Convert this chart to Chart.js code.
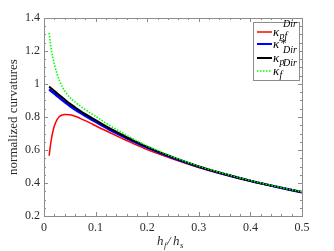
<!DOCTYPE html>
<html>
<head>
<meta charset="utf-8">
<script src="https://cdn.jsdelivr.net/npm/chart.js@4/dist/chart.umd.min.js"></script>
<style>
html,body{margin:0;padding:0;background:#fff;}
canvas{display:block;}
</style>
</head>
<body>
<canvas id="c" width="334" height="251"></canvas>
<script>
// ---- data ----
const hRatio = [0.01, 0.0125, 0.015, 0.0175, 0.02, 0.025, 0.03, 0.035, 0.04, 0.05, 0.06, 0.07, 0.08, 0.09, 0.1, 0.125, 0.15, 0.175, 0.2, 0.25, 0.3, 0.35, 0.4, 0.45, 0.5];
const kappaPF = [0.565, 0.63, 0.678, 0.715, 0.745, 0.783, 0.803, 0.812, 0.815, 0.813, 0.805, 0.792, 0.778, 0.763, 0.747, 0.709, 0.672, 0.636, 0.602, 0.545, 0.494, 0.45, 0.41, 0.375, 0.343];
const kappaStar = [0.968, 0.961, 0.955, 0.948, 0.942, 0.929, 0.916, 0.903, 0.891, 0.867, 0.846, 0.826, 0.807, 0.789, 0.771, 0.727, 0.687, 0.649, 0.614, 0.552, 0.498, 0.453, 0.413, 0.377, 0.344];
const kappaP = [0.985, 0.978, 0.971, 0.965, 0.958, 0.945, 0.932, 0.919, 0.906, 0.881, 0.859, 0.838, 0.818, 0.799, 0.781, 0.735, 0.694, 0.655, 0.619, 0.555, 0.50, 0.455, 0.414, 0.378, 0.345];
const kappaF = [1.31, 1.245, 1.195, 1.156, 1.121, 1.064, 1.02, 0.985, 0.958, 0.919, 0.891, 0.867, 0.845, 0.824, 0.804, 0.753, 0.707, 0.664, 0.625, 0.558, 0.502, 0.456, 0.415, 0.379, 0.346];
const xTicks = [0, 0.1, 0.2, 0.3, 0.4, 0.5];
const xTickLabels = ['0', '0.1', '0.2', '0.3', '0.4', '0.5'];
const yTicks = [0.2, 0.4, 0.6, 0.8, 1.0, 1.2, 1.4];
const yTickLabels = ['0.2', '0.4', '0.6', '0.8', '1', '1.2', '1.4'];
const yTitle = 'normalized curvatures';
const legendItems = [
  {sup: 'Dir', sub: 'pf'},
  {sup: '*', sub: ''},
  {sup: 'Dir', sub: 'p'},
  {sup: 'Dir', sub: 'f'}
];

const pts = arr => hRatio.map((x, i) => ({x: x, y: arr[i]}));
const SERIF = '"Liberation Serif", "DejaVu Serif", serif';
const TXT = '#2a2a2a';
const AX = '#8c8c8c';

const frame = {
  id: 'frame',
  afterDatasetsDraw(chart) {
    const {ctx, chartArea: a, scales: {x, y}} = chart;
    ctx.save();
    ctx.strokeStyle = AX;
    ctx.lineWidth = 1;
    ctx.strokeRect(Math.round(a.left) + 0.5, Math.round(a.top) + 0.5, Math.round(a.right - a.left), Math.round(a.bottom - a.top));
    ctx.beginPath();
    for (let i = 0; i <= 25; i++) {
      const v = i * 0.02;
      const px = Math.round(x.getPixelForValue(v)) + 0.5;
      const L = (i % 5 === 0) ? 4 : 2;
      ctx.moveTo(px, a.bottom); ctx.lineTo(px, a.bottom - L);
      ctx.moveTo(px, a.top); ctx.lineTo(px, a.top + L);
    }
    for (let i = 4; i <= 28; i++) {
      const v = i * 0.05;
      const py = Math.round(y.getPixelForValue(v)) + 0.5;
      const L = (i % 4 === 0) ? 4 : 2;
      ctx.moveTo(a.left, py); ctx.lineTo(a.left + L, py);
      ctx.moveTo(a.right, py); ctx.lineTo(a.right - L, py);
    }
    ctx.stroke();
    ctx.restore();
  },
  afterDraw(chart) {
    const ctx = chart.ctx;
    const ds = chart.data.datasets;
    ctx.save();
    // legend box
    const bx = 253, by = 22, bw = 46, bh = 58;
    ctx.fillStyle = '#fff';
    ctx.fillRect(bx, by, bw, bh);
    ctx.strokeStyle = AX;
    ctx.lineWidth = 1;
    ctx.strokeRect(bx + 0.5, by + 0.5, bw, bh);
    const rows = [32, 44, 58, 71];
    legendItems.forEach((it, i) => {
      const d = ds[i];
      const ly = rows[i];
      ctx.save();
      ctx.strokeStyle = d.borderColor;
      ctx.lineWidth = Math.min(d.borderWidth, 2);
      ctx.setLineDash(d.borderDash || []);
      ctx.beginPath();
      ctx.moveTo(257, ly); ctx.lineTo(272, ly);
      ctx.stroke();
      ctx.restore();
      ctx.fillStyle = '#000';
      ctx.textBaseline = 'alphabetic';
      ctx.textAlign = 'left';
      ctx.font = 'italic 13px ' + SERIF;
      ctx.fillText('\u03BA', 273, ly + 4);
      if (it.sup === '*') {
        ctx.font = '12px ' + SERIF;
        ctx.fillText('*', 280.5, ly + 3);
      } else {
        ctx.font = 'italic 10px ' + SERIF;
        ctx.fillText(it.sup, 283, ly - 5);
      }
      if (it.sub) {
        ctx.font = 'italic 10px ' + SERIF;
        ctx.fillText(it.sub, 279.5, ly + 7);
      }
    });
    // x-axis title h_f / h_s
    ctx.fillStyle = TXT;
    ctx.font = 'italic 13px ' + SERIF;
    ctx.fillText('h', 157, 245);
    ctx.font = 'italic 9px ' + SERIF;
    ctx.fillText('f', 164, 248);
    ctx.font = 'italic 13px ' + SERIF;
    ctx.fillText('/', 167, 245);
    ctx.fillText('h', 173, 245);
    ctx.font = 'italic 9px ' + SERIF;
    ctx.fillText('s', 180, 248);
    ctx.restore();
  }
};

new Chart(document.getElementById('c'), {
  type: 'line',
  data: {
    datasets: [
      {data: pts(kappaPF), borderColor: '#ff0000', borderWidth: 1.5, order: 3},
      {data: pts(kappaStar), borderColor: '#0000ff', borderWidth: 2.5, order: 2},
      {data: pts(kappaP), borderColor: '#000000', borderWidth: 2, order: 1},
      {data: pts(kappaF), borderColor: '#00ff00', borderWidth: 1.6, borderDash: [1.5, 1.5], order: 0}
    ]
  },
  options: {
    responsive: false,
    animation: false,
    devicePixelRatio: 1,
    elements: {point: {radius: 0}, line: {cubicInterpolationMode: 'monotone', fill: false}},
    layout: {padding: {left: 0, top: 18, right: 32, bottom: 0}},
    plugins: {legend: {display: false}, tooltip: {enabled: false}},
    scales: {
      x: {
        type: 'linear', min: 0, max: 0.5,
        grid: {display: false, drawTicks: false},
        border: {display: false},
        afterBuildTicks: s => { s.ticks = xTicks.map(v => ({value: v})); },
        afterFit: s => { s.height = 35; },
        ticks: {
          padding: 5, color: TXT, font: {family: SERIF, size: 12},
          maxRotation: 0,
          callback: (v) => xTickLabels[xTicks.findIndex(t => Math.abs(t - v) < 1e-9)]
        }
      },
      y: {
        type: 'linear', min: 0.2, max: 1.4,
        grid: {display: false, drawTicks: false},
        border: {display: false},
        afterBuildTicks: s => { s.ticks = yTicks.map(v => ({value: v})); },
        afterFit: s => { s.width = 44; },
        title: {display: true, text: yTitle, color: TXT, font: {family: SERIF, size: 13}, padding: {top: 6, bottom: 0}},
        ticks: {
          padding: 4, color: TXT, font: {family: SERIF, size: 12},
          callback: (v) => yTickLabels[yTicks.findIndex(t => Math.abs(t - v) < 1e-9)]
        }
      }
    }
  },
  plugins: [frame]
});
</script>
</body>
</html>
